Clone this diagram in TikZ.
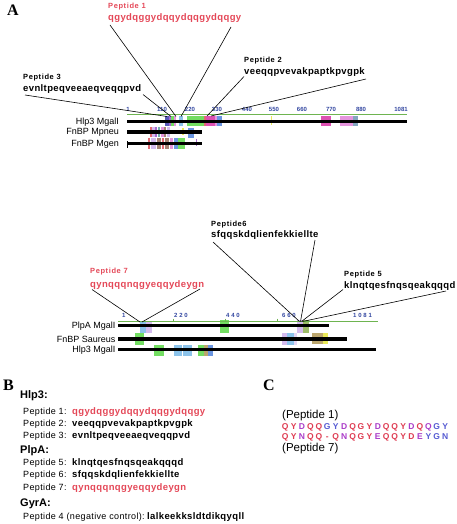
\documentclass[tikz,border=0pt]{standalone}
\usepackage{fontspec}
\setmainfont{Liberation Sans}
\newfontfamily\serifface{Liberation Serif}
\newfontfamily\spaced[LetterSpace=4]{Liberation Sans}
\newfontfamily\wide[LetterSpace=8]{Liberation Sans}
\newfontfamily\rulerwide[LetterSpace=30]{Liberation Sans}
\definecolor{pepred}{RGB}{228,72,88}
\definecolor{rulergreen}{RGB}{110,180,80}
\definecolor{rulerblue}{RGB}{50,70,160}
\definecolor{cr}{RGB}{222,60,82}
\definecolor{cp}{RGB}{170,60,200}
\definecolor{cb}{RGB}{85,90,210}
\definecolor{kgreen}{RGB}{90,215,70}
\definecolor{kdblue}{RGB}{60,60,170}
\definecolor{kpurple}{RGB}{150,80,200}
\definecolor{klblue}{RGB}{120,185,230}
\definecolor{kmag}{RGB}{215,50,165}
\definecolor{kpink}{RGB}{225,130,215}
\definecolor{kblue}{RGB}{80,130,220}
\definecolor{kyellow}{RGB}{230,230,60}
\definecolor{ksteel}{RGB}{110,150,180}
\definecolor{klav}{RGB}{205,175,235}
\definecolor{kolive}{RGB}{175,150,85}
\definecolor{kred}{RGB}{220,80,90}
\definecolor{kbrown}{RGB}{150,110,90}
\definecolor{kteal}{RGB}{90,160,160}
\tikzset{
  panel/.style={font=\serifface\bfseries\fontsize{16}{16}\selectfont, anchor=base west, inner sep=0pt},
  peplabel/.style={font=\wide\bfseries\fontsize{7.5}{9}\selectfont, anchor=base west, inner sep=0pt},
  seq/.style={font=\spaced\bfseries\fontsize{9.5}{11}\selectfont, anchor=base west, inner sep=0pt},
  barlabel/.style={font=\fontsize{9}{10}\selectfont, anchor=base east, inner sep=0pt},
  bar/.style={line width=3.5pt, black},
  ruler/.style={draw=rulergreen, line width=0.8pt},
  ticklab/.style={font=\bfseries\fontsize{6}{6}\selectfont, text=rulerblue, anchor=base, inner sep=0pt},
  ticklabw/.style={font=\rulerwide\bfseries\fontsize{6}{6}\selectfont, text=rulerblue, anchor=base west, inner sep=0pt},
  conn/.style={draw=black, line width=0.6pt},
  hdr/.style={font=\bfseries\fontsize{11}{12}\selectfont, anchor=base west, inner sep=0pt},
  blab/.style={font=\spaced\fontsize{9}{10}\selectfont, anchor=base west, inner sep=0pt},
  clab/.style={font=\fontsize{11.5}{12}\selectfont, anchor=base west, inner sep=0pt},
  letter/.style={font=\bfseries\fontsize{8.5}{9}\selectfont, anchor=base, inner sep=0pt},
  blk/.style={opacity=0.85},
}
\begin{document}
\begin{tikzpicture}[x=1pt,y=-1pt]
\useasboundingbox (0,0) rectangle (456,524);
% ================= Panel A (upper) =================
\node[panel] (A) at (7,16) {A};
% colour blocks Hlp3 row
\fill[blk,kdblue] (165,115.5) rectangle (169,126);
\fill[blk,kpurple] (169,115.5) rectangle (171,126);
\fill[blk,kgreen] (171,115.5) rectangle (174,126);
\fill[blk,kpink] (174,115.5) rectangle (176,126);
\fill[blk,klblue] (179,115.5) rectangle (183,126);
\fill[blk,kgreen] (187,115.5) rectangle (204,126);
\fill[blk,kred] (204,115.5) rectangle (206,126);
\fill[blk,kmag] (206,115.5) rectangle (215,126);
\fill[blk,kpink] (215,115.5) rectangle (217,126);
\fill[blk,kblue] (217,115.5) rectangle (222,126);
\fill[blk,kyellow] (270.5,115.5) rectangle (272,125);
\fill[blk,kmag] (321,116) rectangle (331,126);
\fill[blk,kpink] (340,116) rectangle (353,126);
\fill[blk,ksteel] (353,116) rectangle (358,126);
% Mpneu row
\fill[blk,kred] (150,127) rectangle (152,137);
\fill[blk,klav] (152,127) rectangle (155,137);
\fill[blk,kpurple] (155,127) rectangle (157,137);
\fill[blk,kteal] (158,127) rectangle (160,137);
\fill[blk,kpink] (161,127) rectangle (164,137);
\fill[blk,kbrown] (164,127) rectangle (166,137);
\fill[blk,klav] (167,127) rectangle (170,137);
\fill[blk,kyellow] (182,128) rectangle (184,135);
\fill[blk,kblue] (188,128) rectangle (194,138);
% Mgen row
\fill[blk,kred] (148,138) rectangle (150,149);
\fill[blk,klav] (151,138) rectangle (156,149);
\fill[blk,kbrown] (157,138) rectangle (161,149);
\fill[blk,kred] (162,138) rectangle (164,149);
\fill[blk,kbrown] (165,138) rectangle (169,149);
\fill[blk,kpink] (170,138) rectangle (173,149);
\fill[blk,kblue] (174,138) rectangle (178,149);
\fill[blk,kgreen] (178,138) rectangle (185,149);
\fill[blk,kpurple] (196,139) rectangle (197,146);
% ruler
\draw[ruler] (127,114.3) -- (407,114.3);
\node[ticklab] (u1) at (128,111) {1};
\node[ticklab] (u110) at (162,111) {110};
\node[ticklab] (u220) at (190,111) {220};
\node[ticklab] (u330) at (217,111) {330};
\node[ticklab] (u440) at (247,111) {440};
\node[ticklab] (u550) at (274,111) {550};
\node[ticklab] (u660) at (302,111) {660};
\node[ticklab] (u770) at (331,111) {770};
\node[ticklab] (u880) at (361,111) {880};
\node[ticklab] (u1081) at (401,111) {1081};
% bars
\draw[bar] (127,121.5) -- (407,121.5);
\draw[bar] (127,132) -- (202,132);
\draw[bar] (127,143.5) -- (202,143.5);
\draw[line width=0.6pt] (127.5,141) -- (127.5,148);
\node[barlabel] (lh3) at (119,124.5) {Hlp3 MgalI};
\node[barlabel] (lmp) at (119,135) {FnBP Mpneu};
\node[barlabel] (lmg) at (119,146.5) {FnBP Mgen};
% peptide labels
\node[peplabel, text=pepred] (p1l) at (108,9) {Peptide 1};
\node[seq, text=pepred] (p1s) at (108,21) {qgydqggydqqydqqgydqqgy};
\node[peplabel] (p3l) at (23,80) {Peptide 3};
\node[seq] (p3s) at (23,92) {evnltpeqveeaeqveqqpvd};
\node[peplabel] (p2l) at (244,63) {Peptide 2};
\node[seq] (p2s) at (244,74.5) {veeqqpvevakpaptkpvgpk};
% connectors
\coordinate (p1a) at (110,25); \coordinate (p1b) at (231,27);
\coordinate (p1c) at (176,116.5); \coordinate (p1d) at (181,116.5);
\coordinate (p3a) at (25,95); \coordinate (p3b) at (143,94.5);
\coordinate (p3c) at (167,116.5); \coordinate (p3d) at (171,116.5);
\coordinate (p2a) at (244,76.5); \coordinate (p2b) at (366,79);
\coordinate (p2c) at (207,116); \coordinate (p2d) at (211,116);
\draw[conn] (p1a) -- (p1c);
\draw[conn] (p1b) -- (p1d);
\draw[conn] (p3a) -- (p3c);
\draw[conn] (p3b) -- (p3d);
\draw[conn] (p2a) -- (p2c);
\draw[conn] (p2b) -- (p2d);
% ================= Panel A (lower) =================
% blocks PlpA row
\fill[blk,klblue] (140,320.5) rectangle (146,333);
\fill[blk,klav] (146,320.5) rectangle (152,333);
\fill[blk,kgreen] (220,320) rectangle (229,333);
\fill[blk,klav] (297,320) rectangle (303,333);
\fill[blk,kolive!60!kgreen] (303,320) rectangle (309,333);
% Saureus row
\fill[blk,kgreen] (135,333) rectangle (144,345);
\fill[blk,klav] (282,333) rectangle (287,345);
\fill[blk,klblue] (287,333) rectangle (294,345);
\fill[blk,klav!60] (294,333) rectangle (297,345);
\fill[blk,kolive] (312,333) rectangle (323,344);
\fill[blk,kyellow] (323,333) rectangle (328,344);
% Hlp3 row
\fill[blk,kgreen] (154,344.5) rectangle (164,355.5);
\fill[blk,klblue] (174,344.5) rectangle (182,355.5);
\fill[blk,klblue] (182.5,344.5) rectangle (192,355.5);
\fill[blk,kgreen] (198,344.5) rectangle (204,355.5);
\fill[blk,kolive] (204,344.5) rectangle (208,355.5);
\fill[blk,kblue] (208,344.5) rectangle (213,355.5);
% ruler
\draw[ruler] (118,321.7) -- (378,321.7);
\draw[ruler] (173,318.5) -- (173,321.7);
\draw[ruler] (225,318.5) -- (225,321.7);
\draw[ruler] (277,318.5) -- (277,321.7);
\node[ticklabw] (l1) at (122,317.5) {1};
\node[ticklabw] (l220) at (174,317.5) {220};
\node[ticklabw] (l440) at (226,317.5) {440};
\node[ticklabw] (l660) at (282,317.5) {660};
\node[ticklabw] (l1081) at (353,317.5) {1081};
% bars
\draw[bar] (118,325.5) -- (329,325.5);
\draw[bar] (118,339) -- (347,339);
\draw[bar] (118,349.5) -- (376,349.5);
\node[barlabel] (lpa) at (115.5,328.5) {PlpA MgalI};
\node[barlabel] (lsa) at (115.5,342) {FnBP Saureus};
\node[barlabel] (lh3b) at (115.5,352.5) {Hlp3 MgalI};
% peptide labels
\node[peplabel] (p6l) at (211,226) {Peptide6};
\node[seq] (p6s) at (211,237) {sfqqskdqlienfekkiellte};
\node[peplabel, text=pepred] (p7l) at (90,273) {Peptide 7};
\node[seq, text=pepred] (p7s) at (90,287) {qynqqqnqgyeqqydeygn};
\node[peplabel] (p5l) at (344,276) {Peptide 5};
\node[seq] (p5s) at (344,288) {klnqtqesfnqsqeakqqqd};
% connectors
\coordinate (p7a) at (92,289.5); \coordinate (p7b) at (200,289);
\coordinate (p7c) at (140,322); \coordinate (p7d) at (142,322);
\coordinate (p6a) at (213,242); \coordinate (p6b) at (315,240);
\coordinate (p6c) at (299.5,321.5); \coordinate (p6d) at (300.5,321.5);
\coordinate (p5a) at (343,289.5); \coordinate (p5b) at (446,291);
\coordinate (p5c) at (301.5,321.5); \coordinate (p5d) at (302.5,321.5);
\draw[conn] (p7a) -- (p7c);
\draw[conn] (p7b) -- (p7d);
\draw[conn] (p6a) -- (p6c);
\draw[conn] (p6b) -- (p6d);
\draw[conn] (p5a) -- (p5c);
\draw[conn] (p5b) -- (p5d);
% ================= Panel B =================
\node[panel] (B) at (3,390) {B};
\node[hdr] (hB1) at (20,398) {Hlp3:};
\node[blab] (b1) at (23,414) {Peptide 1:};
\node[seq, text=pepred] (b1s) at (72,414) {qgydqggydqqydqqgydqqgy};
\node[blab] (b2) at (23,426.7) {Peptide 2:};
\node[seq] (b2s) at (72,426.7) {veeqqpvevakpaptkpvgpk};
\node[blab] (b3) at (23,438.5) {Peptide 3:};
\node[seq] (b3s) at (72,438.5) {evnltpeqveeaeqveqqpvd};
\node[hdr] (hB2) at (20,453) {PlpA:};
\node[blab] (b5) at (23,465) {Peptide 5:};
\node[seq] (b5s) at (72,465) {klnqtqesfnqsqeakqqqd};
\node[blab] (b6) at (23,477.7) {Peptide 6:};
\node[seq] (b6s) at (72,477.7) {sfqqskdqlienfekkiellte};
\node[blab] (b7) at (23,490) {Peptide 7:};
\node[seq, text=pepred] (b7s) at (72,490) {qynqqqnqgyeqqydeygn};
\node[hdr] (hB3) at (20,506) {GyrA:};
\node[blab] (b4) at (23,519) {Peptide 4 (negative control):};
\node[seq] (b4s) at (147,519) {lalkeekksldtdikqyqll};
% ================= Panel C =================
\node[panel] (C) at (263,390) {C};
\node[clab] (c1) at (282,418.3) {(Peptide 1)};
\foreach \ch/\col [count=\i] in {Q/cr,Y/cr,D/cp,Q/cr,Q/cr,G/cb,Y/cb,D/cp,Q/cr,G/cr,Y/cr,D/cp,Q/cr,Q/cr,Y/cr,D/cp,Q/cr,Q/cp,G/cb,Y/cb}
  \node[letter, text=\col] (ra\i) at ({285.2+(\i-1)*8.42},429.3) {\ch};
\foreach \ch/\col [count=\i] in {Q/cr,Y/cr,N/cp,Q/cr,Q/cr,-/cr,Q/cr,N/cp,Q/cr,G/cr,Y/cr,E/cp,Q/cr,Q/cr,Y/cr,D/cr,E/cp,Y/cb,G/cb,N/cb}
  \node[letter, text=\col] (rb\i) at ({285.2+(\i-1)*8.42},439.3) {\ch};
\node[clab] (c7) at (282,451.7) {(Peptide 7)};
\end{tikzpicture}
\end{document}
